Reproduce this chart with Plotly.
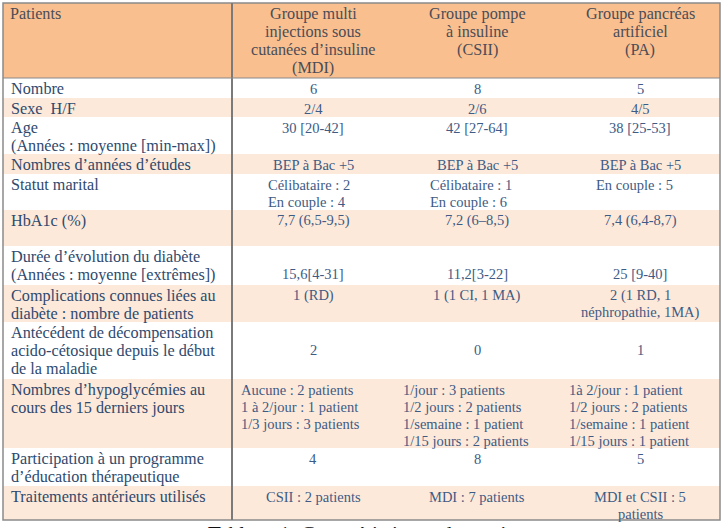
import plotly.graph_objects as go

# ---------------- data ----------------
corner_label = "Patients"
group_headers = [
    "Groupe multi\ninjections sous\ncutanées d’insuline\n(MDI)",
    "Groupe pompe\nà insuline\n(CSII)",
    "Groupe pancréas\nartificiel\n(PA)",
]
row_labels = [
    "Nombre",
    "Sexe\u00a0 H/F",
    "Age\n(Années : moyenne [min-max])",
    "Nombres d’années d’études",
    "Statut marital",
    "HbA1c (%)",
    "Durée d’évolution du diabète\n(Années : moyenne [extrêmes])",
    "Complications connues liées au\ndiabète : nombre de patients",
    "Antécédent de décompensation\nacido-cétosique depuis le début\nde la maladie",
    "Nombres d’hypoglycémies au\ncours des 15 derniers jours",
    "Participation à un programme\nd’éducation thérapeutique",
    "Traitements antérieurs utilisés",
]
mdi_values = [
    "6", "2/4", "30 [20-42]", "BEP à Bac +5",
    "Célibataire : 2\nEn couple : 4", "7,7 (6,5-9,5)", "\n15,6[4-31]", "1 (RD)", "\n2",
    "Aucune : 2 patients\n1 à 2/jour : 1 patient\n1/3 jours : 3 patients",
    "4", "CSII : 2 patients",
]
csii_values = [
    "8", "2/6", "42 [27-64]", "BEP à Bac +5",
    "Célibataire : 1\nEn couple : 6", "7,2 (6–8,5)", "\n11,2[3-22]", "1 (1 CI, 1 MA)", "\n0",
    "1/jour : 3 patients\n1/2 jours : 2 patients\n1/semaine : 1 patient\n1/15 jours : 2 patients",
    "8", "MDI : 7 patients",
]
pa_values = [
    "5", "4/5", "38 [25-53]", "BEP à Bac +5",
    "En couple : 5", "7,4 (6,4-8,7)", "\n25 [9-40]", "2 (1 RD, 1\nnéphropathie, 1MA)", "\n1",
    "1à 2/jour : 1 patient\n1/2 jours : 2 patients\n1/semaine : 1 patient\n1/15 jours : 1 patient",
    "5", "MDI et CSII : 5\npatients",
]
caption = "Tableau 1: Caractéristiques des patients"

# ---------------- layout / style ----------------
W, H = 723, 528
table_left, table_top = 3, 3
col_widths = [229, 162, 166, 160]
header_height = 75
row_heights = [20, 19, 37, 20, 36, 36, 39, 37, 57, 69, 38, 34]
banded = [False, True, False, True, False, True, False, True, False, True, False, True]
block_inset = {4: 35, 9: 8}      # rows whose data lines are left-aligned blocks
first_line_offset = 10.5
label_line_step = 18
value_line_step = 17.3
header_line_step = 18

HEADER_FILL = "#FABF8F"
BAND_FILL = "#FDE9D9"
BORDER = "#8a8a8a"
HEADER_TXT = "#4a4d57"
LABEL_TXT = "#2f4a6e"
VALUE_TXT = "#3d5b85"
FONT = "Liberation Serif"
LABEL_SIZE = 16.2
VALUE_SIZE = 14.5

col_edges = [table_left]
for w in col_widths:
    col_edges.append(col_edges[-1] + w)
row_edges = [table_top, table_top + header_height]
for h in row_heights:
    row_edges.append(row_edges[-1] + h)
table_right, table_bottom = col_edges[-1], row_edges[-1]

shapes = []
annotations = []


def add_text(text, x, y, size, color, xanchor):
    annotations.append(dict(
        x=x, y=y, xref="x", yref="y", text=text, showarrow=False,
        xanchor=xanchor, yanchor="middle", align="left",
        font=dict(family=FONT, size=size, color=color), borderpad=0,
    ))


# header fill
shapes.append(dict(type="rect", xref="x", yref="y", x0=table_left, x1=table_right,
                   y0=row_edges[0], y1=row_edges[1], fillcolor=HEADER_FILL,
                   line=dict(width=0), layer="below"))
# row fills
for i, band in enumerate(banded):
    shapes.append(dict(type="rect", xref="x", yref="y", x0=table_left, x1=table_right,
                       y0=row_edges[i + 1], y1=row_edges[i + 2],
                       fillcolor=BAND_FILL if band else "white",
                       line=dict(width=0), layer="below"))

# header texts
add_text(corner_label, table_left + 6, table_top + 11, LABEL_SIZE, HEADER_TXT, "left")
for c, hdr in enumerate(group_headers):
    cx = (col_edges[c + 1] + col_edges[c + 2]) / 2
    for k, line in enumerate(hdr.split("\n")):
        add_text(line, cx, table_top + 11 + k * header_line_step, LABEL_SIZE, HEADER_TXT, "center")

# body texts
columns = [mdi_values, csii_values, pa_values]
for r, label in enumerate(row_labels):
    top = row_edges[r + 1]
    for k, line in enumerate(label.split("\n")):
        add_text(line, table_left + 7, top + first_line_offset + k * label_line_step,
                 LABEL_SIZE, LABEL_TXT, "left")
    for c, vals in enumerate(columns):
        x0, x1 = col_edges[c + 1], col_edges[c + 2]
        for k, line in enumerate(vals[r].split("\n")):
            if not line:
                continue
            y = top + first_line_offset + k * value_line_step
            if r in block_inset:
                add_text(line, x0 + block_inset[r], y, VALUE_SIZE, VALUE_TXT, "left")
            else:
                add_text(line, (x0 + x1) / 2, y, VALUE_SIZE, VALUE_TXT, "center")

# borders
shapes.append(dict(type="rect", xref="x", yref="y", x0=table_left, x1=table_right,
                   y0=table_top, y1=table_bottom, line=dict(color=BORDER, width=1.5)))
shapes.append(dict(type="line", xref="x", yref="y", x0=col_edges[1], x1=col_edges[1],
                   y0=table_top, y1=table_bottom, line=dict(color="#7a7a7a", width=2)))
shapes.append(dict(type="line", xref="x", yref="y", x0=table_left, x1=table_right,
                   y0=row_edges[1], y1=row_edges[1], line=dict(color=BORDER, width=1.2)))

# caption (mostly cut off by the image bottom)
annotations.append(dict(x=207, y=table_bottom + 0.5, xref="x", yref="y", text=caption,
                        showarrow=False, xanchor="left", yanchor="top",
                        font=dict(family=FONT, size=21, color="#111111"), borderpad=0))

fig = go.Figure()
fig.update_layout(
    width=W, height=H, margin=dict(l=0, r=0, t=0, b=0),
    paper_bgcolor="white", plot_bgcolor="white",
    xaxis=dict(range=[0, W], visible=False, fixedrange=True),
    yaxis=dict(range=[H, 0], visible=False, fixedrange=True),
    shapes=shapes, annotations=annotations, showlegend=False,
)
fig.write_html("out.html", config={"displayModeBar": False},
               post_script="document.body.style.margin='0';")
